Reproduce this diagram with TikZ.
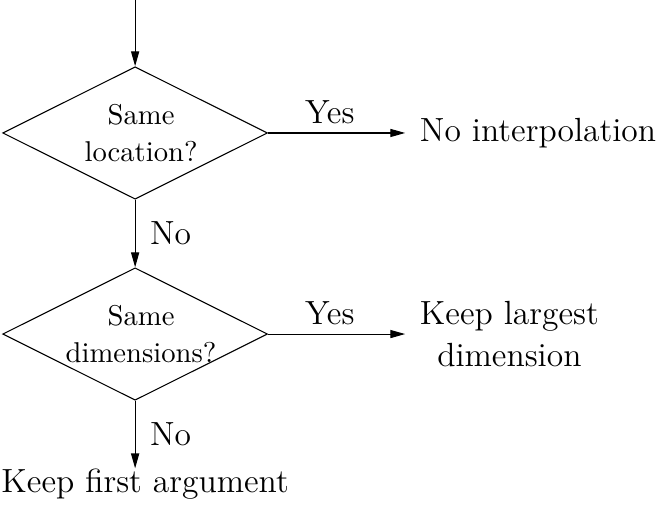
\documentclass[tikz,border=0pt]{standalone}
\usepackage{tikz}
\usetikzlibrary{calc,positioning,arrows.meta,shapes}

\begin{document}
\begin{tikzpicture}[dec/.style={draw,diamond,aspect=2,inner sep=-5pt,minimum width=98pt,minimum height=49pt,align=center,font=\fontsize{10.6}{13.6}\selectfont},
	res/.style={inner sep=5.3pt,align=center,font=\fontsize{12.4}{15.9}\selectfont},
	lbl/.style={font=\fontsize{12.4}{15}\selectfont},
	arr/.style={-{Triangle[length=5.5pt,width=3pt]}},
	node distance=25pt]
				\node[dec] (d1) {\hspace*{4.4pt}Same\\\hspace*{4.4pt}location?};
				\coordinate[above=of d1.north] (top);
				\node[dec] (d2) [below=of d1] {\hspace*{4.4pt}Same\\\hspace*{4.4pt}dimensions?};
				
				\node[res] (r1) [right=50.7pt of d1] {No interpolation};
				\node[res] (r2) [right=50.7pt of d2] {Keep largest\\dimension};
				\node[res,inner sep=0pt] (r3) [below=of d2,xshift=3.7pt] {Keep first argument};
				
				\draw[arr] (top) -- (d1.north);
				\draw[arr] (d1.east) -- node[pos=0.45,above,lbl] {Yes} (r1);
				\draw[arr] (d1.south) -- node[midway,right,lbl,xshift=2pt] {No} (d2.north);
				\draw[arr] (d2.east) -- node[pos=0.45,above,lbl] {Yes} (r2);
				\draw[arr] (d2.south) -- node[midway,right,lbl,xshift=2pt] {No} (d2.south |- r3.north);
				
				\pgfresetboundingbox
				\useasboundingbox ($(d1.center)+(-50pt,49.2pt)$) rectangle ($(d1.center)+(193.1pt,-138pt)$);
			\end{tikzpicture}
\end{document}
